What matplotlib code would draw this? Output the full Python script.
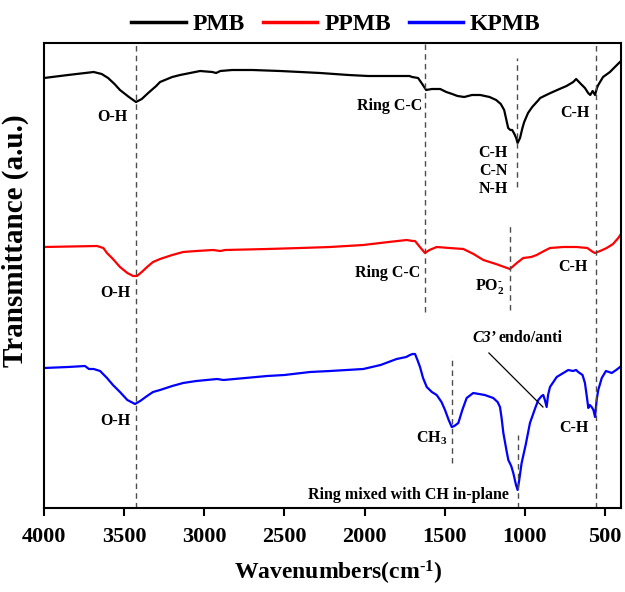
import numpy as np
import matplotlib
matplotlib.use("Agg")
import matplotlib.pyplot as plt

plt.rcParams["font.family"] = "Liberation Serif"
plt.rcParams["font.weight"] = "bold"
plt.rcParams["mathtext.fontset"] = "custom"
plt.rcParams["mathtext.rm"] = "Liberation Serif:bold"
plt.rcParams["mathtext.it"] = "Liberation Serif:italic:bold"
plt.rcParams["mathtext.bf"] = "Liberation Serif:bold"

# ── spectra (wavenumber cm-1, transmittance a.u., offset) ──────────
wn_pmb = [4000, 3850, 3690, 3640, 3600, 3560, 3526, 3470, 3426, 3390, 3350, 3300,
          3276, 3200, 3151, 3026, 2950, 2926, 2900, 2826, 2700, 2527, 2400, 2277,
          2100, 1978, 1850, 1778, 1720, 1703, 1666, 1640, 1616, 1580, 1528, 1490,
          1453, 1420, 1378, 1330, 1278, 1220, 1179, 1150, 1129, 1115, 1104, 1090,
          1079, 1065, 1054, 1045, 1030, 1015, 1004, 980, 954, 920, 904, 879, 840,
          798, 740, 698, 680, 656, 625, 605, 592, 577, 562, 550, 542, 512, 469,
          438, 413, 400]
t_pmb = [514, 517, 520, 518, 514, 508, 502, 495, 490, 493, 499, 506,
         510, 515, 517, 521, 520, 519, 521, 522, 522, 521, 520, 519,
         517, 516, 516, 516, 516, 515, 514, 508, 502, 503, 503, 500,
         498, 496, 495, 497, 497, 495, 492, 488, 482, 472, 464, 462,
         462, 458, 454, 449, 454, 464, 470, 479, 485, 491, 494, 496, 499,
         502, 506, 510, 513, 509, 504, 499, 497, 501, 497, 504, 507, 515, 520,
         525, 529, 531]

wn_ppmb = [4000, 3669, 3630, 3607, 3570, 3526, 3480, 3444, 3420, 3390, 3357, 3320,
           3276, 3200, 3132, 3050, 2945, 2900, 2870, 2608, 2400, 2216, 2008, 1850,
           1737, 1700, 1685, 1655, 1623, 1595, 1550, 1470, 1384, 1320, 1259, 1180,
           1093, 1050, 1010, 960, 926, 880, 843, 760, 677, 610, 575, 562, 530,
           489, 450, 417, 400]
t_ppmb = [345, 346, 344, 339, 333, 325, 319, 316, 316, 320, 325, 330,
          333, 337, 340, 341, 342, 341, 342, 343, 344, 345, 347, 350,
          352, 351, 351, 345, 339, 342, 345, 344, 343, 338, 332, 328,
          323, 329, 334, 335, 337, 341, 344, 345, 345, 344, 340, 339, 341,
          344, 348, 354, 358]

wn_kpmb = [4000, 3850, 3744, 3720, 3690, 3650, 3607, 3570, 3526, 3480, 3432, 3400,
           3357, 3320, 3276, 3200, 3132, 3050, 2920, 2880, 2608, 2500, 2340, 2216,
           2008, 1900, 1800, 1740, 1717, 1700, 1685, 1670, 1654, 1635, 1612, 1580,
           1550, 1520, 1498, 1475, 1456, 1440, 1415, 1390, 1363, 1322, 1250, 1197,
           1170, 1155, 1145, 1134, 1115, 1103, 1085, 1072, 1055, 1045, 1035, 1020,
           995, 968, 935, 916, 895, 885, 875, 864, 855, 843, 801, 760, 729, 700,
           680, 667, 640, 625, 612, 604, 595, 583, 572, 562, 552, 542, 520, 494,
           475, 458, 430, 406, 400]
t_kpmb = [224, 225, 226, 223, 223, 221, 214, 207, 200, 192, 188, 191,
          196, 200, 202, 206, 209, 211, 213, 212, 216, 217, 220, 221,
          223, 227, 233, 235, 237, 238, 238, 232, 225, 214, 205, 200,
          197, 190, 182, 172, 165, 166, 169, 182, 194, 199, 197, 194,
          190, 185, 174, 159, 142, 132, 126, 119, 107, 102, 112, 129,
          147, 169, 184, 192, 196, 197, 192, 185, 197, 205, 215, 219, 222, 221,
          222, 220, 217, 209, 194, 184, 187, 185, 182, 175, 192, 202, 214, 221,
          220, 219, 222, 225, 226]

# band markers: (wavenumber, ymin, ymax)
bands = [(3426, 84, 549), (1620, 280, 549), (1046, 405, 534), (1093, 282, 367),
         (556, 84, 549), (1456, 129, 236), (1045, 84, 157)]

# peak labels: (text, wavenumber, y, ha)
labels = [("O-H", 3576, 475, "center"), ("Ring C-C", 1640, 486, "right"),
          ("C-H", 687, 479, "center"), ("C-H\nC-N\nN-H", 1199, 421, "center"),
          ("O-H", 3557, 299, "center"), ("Ring C-C", 1650, 319, "right"),
          ("PO$_2^{\\text{-}}$", 1217, 305, "center"), ("C-H", 700, 325, "center"),
          ("O-H", 3557, 171, "center"), ("CH$_3$", 1579, 154, "center"),
          ("C-H", 693, 164, "center")]

fig = plt.figure(figsize=(6.25, 5.92), dpi=100)
ax = fig.add_axes([44/625, 1-508/592, 577/625, 465/592])

l1, = ax.plot(wn_pmb, t_pmb, color="black", lw=1.6, label="PMB")
l2, = ax.plot(wn_ppmb, t_ppmb, color="#ff0000", lw=1.6, label="PPMB")
l3, = ax.plot(wn_kpmb, t_kpmb, color="#0000ff", lw=1.6, label="KPMB")

for x, y0, y1 in bands:
    ax.plot([x, x], [y0, y1], color="0.3", lw=1.0, dashes=(4, 3))

for txt, x, y, ha in labels:
    ax.text(x, y, txt, ha=ha, va="center", fontsize=11.5, fontweight="bold",
            linespacing=1.15)

ax.text(1180, 254, "C3\u2019", ha="right", va="center", fontsize=11.5,
        fontweight="bold", style="italic")
ax.text(1165, 254, "endo/anti", ha="left", va="center", fontsize=11.5,
        fontweight="bold")
ax.plot([1224, 887], [239, 185], color="black", lw=0.9)
ax.text(1100, 97, "Ring mixed with CH in-plane", ha="right", va="center",
        fontsize=11.5, fontweight="bold")

ax.set_xlim(4000, 400)
ax.set_ylim(84, 549)
ax.set_xticks([4000, 3500, 3000, 2500, 2000, 1500, 1000, 500])
ax.set_yticks([])
ax.tick_params(axis="x", direction="out", length=6, width=1.5, labelsize=16,
               pad=8, top=False)
for lab in ax.get_xticklabels():
    lab.set_fontweight("bold")
for s in ax.spines.values():
    s.set_linewidth(1.5)

fig.text(338/625, 1-573/592, "Wavenumbers(cm$^{\\text{-1}}$)", ha="center",
         va="center", fontsize=17, fontweight="bold")
fig.text(15/625, 1-241/592, "Transmittance (a.u.)", ha="center", va="center",
         rotation=90, fontsize=21, fontweight="bold")

leg = fig.legend(handles=[l1, l2, l3], loc="center",
                 bbox_to_anchor=(336/625, 1-24/592), ncol=3, frameon=False,
                 fontsize=17, handlelength=2.3, handletextpad=0.3,
                 columnspacing=0.75, borderaxespad=0)
for h in leg.legend_handles:
    h.set_linewidth(2.5)

fig.savefig("out.png", dpi=100)
